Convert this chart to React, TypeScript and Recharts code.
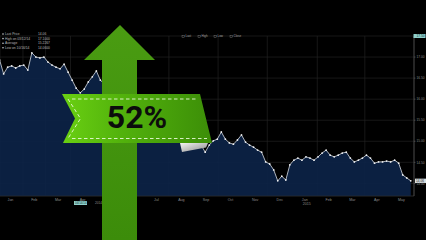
import { ComposedChart, Area, XAxis, YAxis, CartesianGrid, ReferenceLine } from 'recharts';

// Jan 2014 .. May 2015, one label per month
const MONTHS = ['Jan', 'Feb', 'Mar', 'Apr', 'May', 'Jun', 'Jul', 'Aug', 'Sep', 'Oct', 'Nov', 'Dec', 'Jan', 'Feb', 'Mar', 'Apr', 'May'];
// day offsets (from 1 Jan 2014) where each month begins, plus the end of May 2015
const MONTH_START_DAYS = [0, 31, 59, 90, 120, 151, 181, 212, 243, 273, 304, 334, 365, 396, 424, 455, 485, 516];
const PRICE_TICKS = [14, 14.5, 15, 15.5, 16, 16.5, 17, 17.5];

// closing prices sampled every 5 days starting 3 Jan 2014
const FIRST_DAY = 2;
const STEP_DAYS = 5;
const CLOSES = [
  16.93, 16.6, 16.76, 16.79, 16.74, 16.79, 16.81, 16.69, 17.1, 17.0,
  16.98, 17.0, 16.88, 16.81, 16.76, 16.72, 16.83, 16.64, 16.45, 16.26,
  16.15, 16.24, 16.41, 16.53, 16.67, 16.45, 16.36, 16.26, 16.17, 16.05,
  15.98, 15.88, 15.79, 15.69, 15.62, 15.55, 15.6, 15.5, 15.43, 15.48,
  15.39, 15.31, 15.36, 15.27, 15.2, 15.24, 15.15, 15.08, 15.03, 14.98,
  14.91, 14.74, 14.91, 15.01, 15.05, 15.22, 15.05, 14.96, 14.93, 15.03,
  15.15, 14.98, 14.91, 14.86, 14.79, 14.74, 14.51, 14.46, 14.32, 14.06,
  14.17, 14.08, 14.44, 14.55, 14.6, 14.55, 14.63, 14.6, 14.55, 14.63,
  14.72, 14.79, 14.67, 14.63, 14.67, 14.72, 14.74, 14.6, 14.51, 14.55,
  14.6, 14.67, 14.6, 14.48, 14.51, 14.51, 14.53, 14.51, 14.55, 14.48,
  14.2, 14.13, 14.06,
];
const LAST_PRICE = CLOSES[CLOSES.length - 1];
const GAIN_LABEL = '52%';

const data = CLOSES.map((close, i) => ({ day: FIRST_DAY + i * STEP_DAYS, close }));
const monthMids = MONTH_START_DAYS.slice(0, -1).map((d, i) => (d + MONTH_START_DAYS[i + 1]) / 2);

const AXIS_TEXT = '#8c8c8c';

function MonthTick({ x, y, index }: any) {
  return (
    <g>
      <text x={x} y={y + 4.5} fontSize={3.6} fill={AXIS_TEXT} textAnchor="middle" fontFamily="Arial, sans-serif">
        {MONTHS[index]}
      </text>
      {index === 12 && (
        <text x={x + 2} y={y + 9} fontSize={3.6} fill={AXIS_TEXT} textAnchor="middle" fontFamily="Arial, sans-serif">
          2015
        </text>
      )}
    </g>
  );
}

function PriceTick({ x, y, payload }: any) {
  const top = payload.value === PRICE_TICKS[PRICE_TICKS.length - 1];
  return (
    <g>
      {top && <rect x={x - 2} y={y - 2} width={12} height={4} fill="#8fd0cc" />}
      <text x={x + 1} y={y + 1.2} fontSize={3.2} fill={top ? '#103030' : AXIS_TEXT} fontFamily="Arial, sans-serif">
        {payload.value.toFixed(2)}
      </text>
    </g>
  );
}

function PriceTag({ viewBox }: any) {
  const x = viewBox.x + viewBox.width + 1;
  return (
    <g>
      <rect x={x} y={viewBox.y - 2.2} width={11} height={4.4} fill="#d6dde0" />
      <text x={x + 1} y={viewBox.y + 1.2} fontSize={3.2} fill="#222" fontFamily="Arial, sans-serif">
        {LAST_PRICE.toFixed(2)}
      </text>
    </g>
  );
}

const infoRows = [
  ['Last Price', '14.06'],
  ['High on 03/12/14', '17.1000'],
  ['Average', '15.2267'],
  ['Low on 10/16/14', '14.0600'],
];
const seriesKeys = ['Last', 'High', 'Low', 'Close'];

function Overlay() {
  return (
    <svg width={426} height={240} style={{ position: 'absolute', left: 0, top: 0, pointerEvents: 'none' }}>
      <defs>
        <linearGradient id="ribbon" x1="0" y1="0" x2="1" y2="0">
          <stop offset="0" stopColor="#6ad012" />
          <stop offset="0.4" stopColor="#52b20c" />
          <stop offset="1" stopColor="#3c8e08" />
        </linearGradient>
        <linearGradient id="shaft" x1="0" y1="0" x2="0" y2="1">
          <stop offset="0" stopColor="#4a9c12" />
          <stop offset="1" stopColor="#3c8c0a" />
        </linearGradient>
        <linearGradient id="fold" x1="0" y1="0" x2="1" y2="1">
          <stop offset="0" stopColor="#f4f4f4" />
          <stop offset="1" stopColor="#8a8a8a" />
        </linearGradient>
      </defs>

      {/* info box, top left */}
      {infoRows.map(([label, value], i) => (
        <g key={label} fontFamily="Arial, sans-serif" fontSize={3.3} fill="#b8b8b8">
          <circle cx={3} cy={35 + i * 4.6 - 1} r={0.8} fill="#cfcfcf" />
          <text x={5} y={35 + i * 4.6}>{label}</text>
          <text x={38} y={35 + i * 4.6}>{value}</text>
        </g>
      ))}

      {/* series key, top */}
      {seriesKeys.map((k, i) => (
        <g key={k} fontFamily="Arial, sans-serif" fontSize={3} fill="#a0a0a0">
          <rect x={182 + i * 16} y={35.3} width={2.2} height={2.2} fill="none" stroke="#888" strokeWidth={0.4} />
          <text x={185.5 + i * 16} y={37.4}>{k}</text>
        </g>
      ))}

      {/* date marker below the axis */}
      <rect x={74} y={201} width={13} height={4} fill="#8fd0cc" />
      <text x={75} y={204.2} fontSize={3} fill="#103030" fontFamily="Arial, sans-serif">04/14/14</text>
      <text x={95} y={204.2} fontSize={3.2} fill={AXIS_TEXT} fontFamily="Arial, sans-serif">2014</text>

      {/* up arrow */}
      <polygon points="102,240 102,60 84,60 120,25 155,60 137,60 137,240" fill="url(#shaft)" />

      {/* ribbon with the gain figure */}
      <polygon points="180,143 208,143 206,147.5 182,152" fill="url(#fold)" />
      <polygon points="62,94 200,94 212,143 63,143 75,118.5" fill="url(#ribbon)" />
      <g stroke="#e8f8d8" strokeWidth={0.9} strokeDasharray="3.5 2.5" fill="none">
        <line x1={72} y1={99} x2={197} y2={99} />
        <line x1={72} y1={138.5} x2={207} y2={138.5} />
        <polyline points="68,99 80.5,118.5 68,138.5" />
      </g>
      <text
        x={137}
        y={128}
        textAnchor="middle"
        fontFamily="Roboto, Arial, sans-serif"
        fontWeight={700}
        fontSize={32}
        fill="#0c0c0c"
      >
        {GAIN_LABEL}
      </text>
    </svg>
  );
}

export default function App() {
  return (
    <div style={{ position: 'absolute', left: 0, top: 0, width: 426, height: 240, background: '#000', overflow: 'hidden' }}>
      <ComposedChart width={426} height={240} data={data} margin={{ top: 36, right: 0, bottom: 0, left: 0 }}>
        <CartesianGrid xAxisId="months" stroke="#262626" strokeWidth={0.6} />
        <XAxis
          xAxisId="months"
          dataKey="day"
          type="number"
          domain={[2.5, 516]}
          ticks={MONTH_START_DAYS}
          allowDataOverflow
          hide
        />
        <XAxis
          dataKey="day"
          type="number"
          domain={[2.5, 516]}
          ticks={monthMids}
          interval={0}
          allowDataOverflow
          height={44}
          tickSize={0}
          tickMargin={0}
          tickLine={false}
          axisLine={{ stroke: '#2e2e2e', strokeWidth: 0.6 }}
          tick={<MonthTick />}
        />
        <YAxis
          orientation="right"
          width={12}
          domain={[13.7, 17.5]}
          ticks={PRICE_TICKS}
          allowDataOverflow
          interval={0}
          tickSize={1.5}
          tickMargin={0}
          tickLine={{ stroke: '#777', strokeWidth: 0.5 }}
          axisLine={{ stroke: '#6a6a6a', strokeWidth: 0.6 }}
          tick={<PriceTick />}
        />
        <Area
          type="linear"
          dataKey="close"
          stroke="#d8dde4"
          strokeWidth={0.8}
          fill="#0c2348"
          fillOpacity={0.9}
          dot={{ r: 0.9, fill: '#ffffff', stroke: 'none' }}
          isAnimationActive={false}
        />
        <ReferenceLine y={LAST_PRICE} stroke="none" label={<PriceTag />} />
      </ComposedChart>
      <Overlay />
    </div>
  );
}
